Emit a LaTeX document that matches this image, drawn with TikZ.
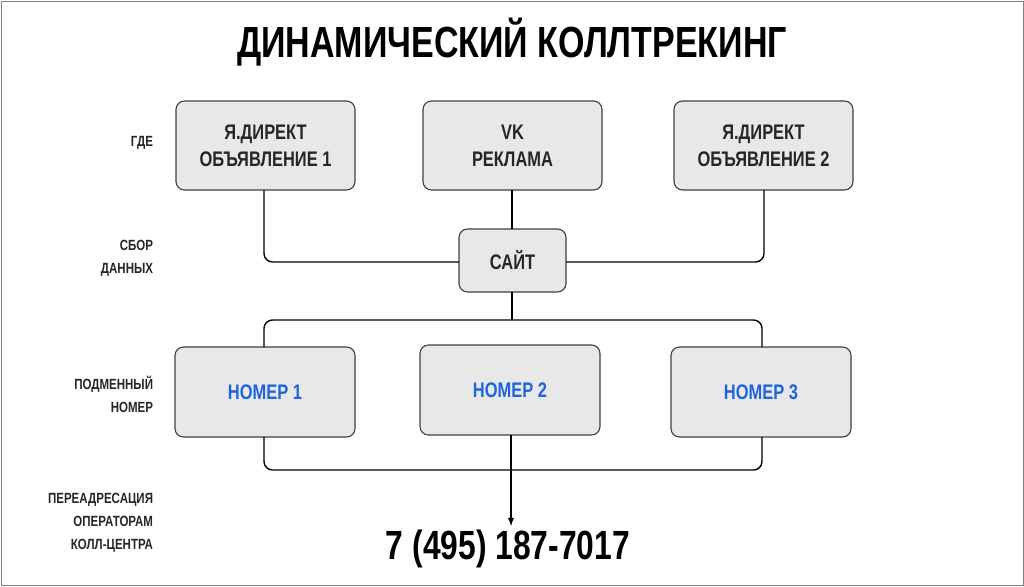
\documentclass[tikz,border=0pt]{standalone}
\usepackage{fontspec}
\setmainfont{Liberation Sans}[FakeStretch=0.78]
\begin{document}
\begin{tikzpicture}[x=0.025cm,y=-0.025cm,
 box/.style={draw=black!75,fill=black!9,rounded corners=6pt,line width=0.8pt},
 bt/.style={font=\bfseries\fontsize{15}{19}\selectfont,align=center,text=black!85},
 bl/.style={font=\bfseries\fontsize{15}{19}\selectfont,text={rgb,255:red,30;green,100;blue,220}},
 lab/.style={font=\bfseries\fontsize{10.5}{16.5}\selectfont,align=right,anchor=east,text=black!85},
 ln/.style={line width=1pt,rounded corners=6pt}]
\useasboundingbox (0,0) rectangle (1024,586);
\draw[black!50,line width=0.6pt] (1,1) rectangle (1023,585);
\node[font=\bfseries\fontsize{31}{36}\selectfont] (title) at (512,42) {ДИНАМИЧЕСКИЙ КОЛЛТРЕКИНГ};
\draw[box] (176,101) rectangle (355,190); \node[bt] (a1) at (265.5,145.5) {Я.ДИРЕКТ\\ОБЪЯВЛЕНИЕ 1};
\draw[box] (423,101) rectangle (602,190); \node[bt] (a2) at (512.5,145.5) {VK\\РЕКЛАМА};
\draw[box] (674,101) rectangle (853,190); \node[bt] (a3) at (763.5,145.5) {Я.ДИРЕКТ\\ОБЪЯВЛЕНИЕ 2};
\draw[box] (459,229) rectangle (566,292); \node[bt] (s) at (512.5,260.5) {САЙТ};
\draw[box] (175,347) rectangle (355,437); \node[bl] (n1) at (265,392) {НОМЕР 1};
\draw[box] (420,345) rectangle (600,435); \node[bl] (n2) at (510,390) {НОМЕР 2};
\draw[box] (671,347) rectangle (851,437); \node[bl] (n3) at (761,392) {НОМЕР 3};
\draw[ln] (264,190) -- (264,262) -- (459,262);
\draw[ln] (764,190) -- (764,262) -- (566,262);
\draw[ln] (512,190) -- (512,229);
\draw[ln] (512,292) -- (512,320);
\draw[ln] (264,347) -- (264,320) -- (762,320) -- (762,347);
\draw[ln] (264,437) -- (264,470) -- (762,470) -- (762,437);
\draw[line width=1pt,-latex] (511,435) -- (511,526);
\node[font=\bfseries\fontsize{29}{34}\selectfont] (ph) at (508,549) {7 (495) 187-7017};
\node[lab] (l1) at (158,143) {ГДЕ};
\node[lab] (l2) at (158,258) {СБОР\\ДАННЫХ};
\node[lab] (l3) at (158,394) {ПОДМЕННЫЙ\\НОМЕР};
\node[lab] (l4) at (158,523) {ПЕРЕАДРЕСАЦИЯ\\ОПЕРАТОРАМ\\КОЛЛ-ЦЕНТРА};
\end{tikzpicture}
\end{document}
